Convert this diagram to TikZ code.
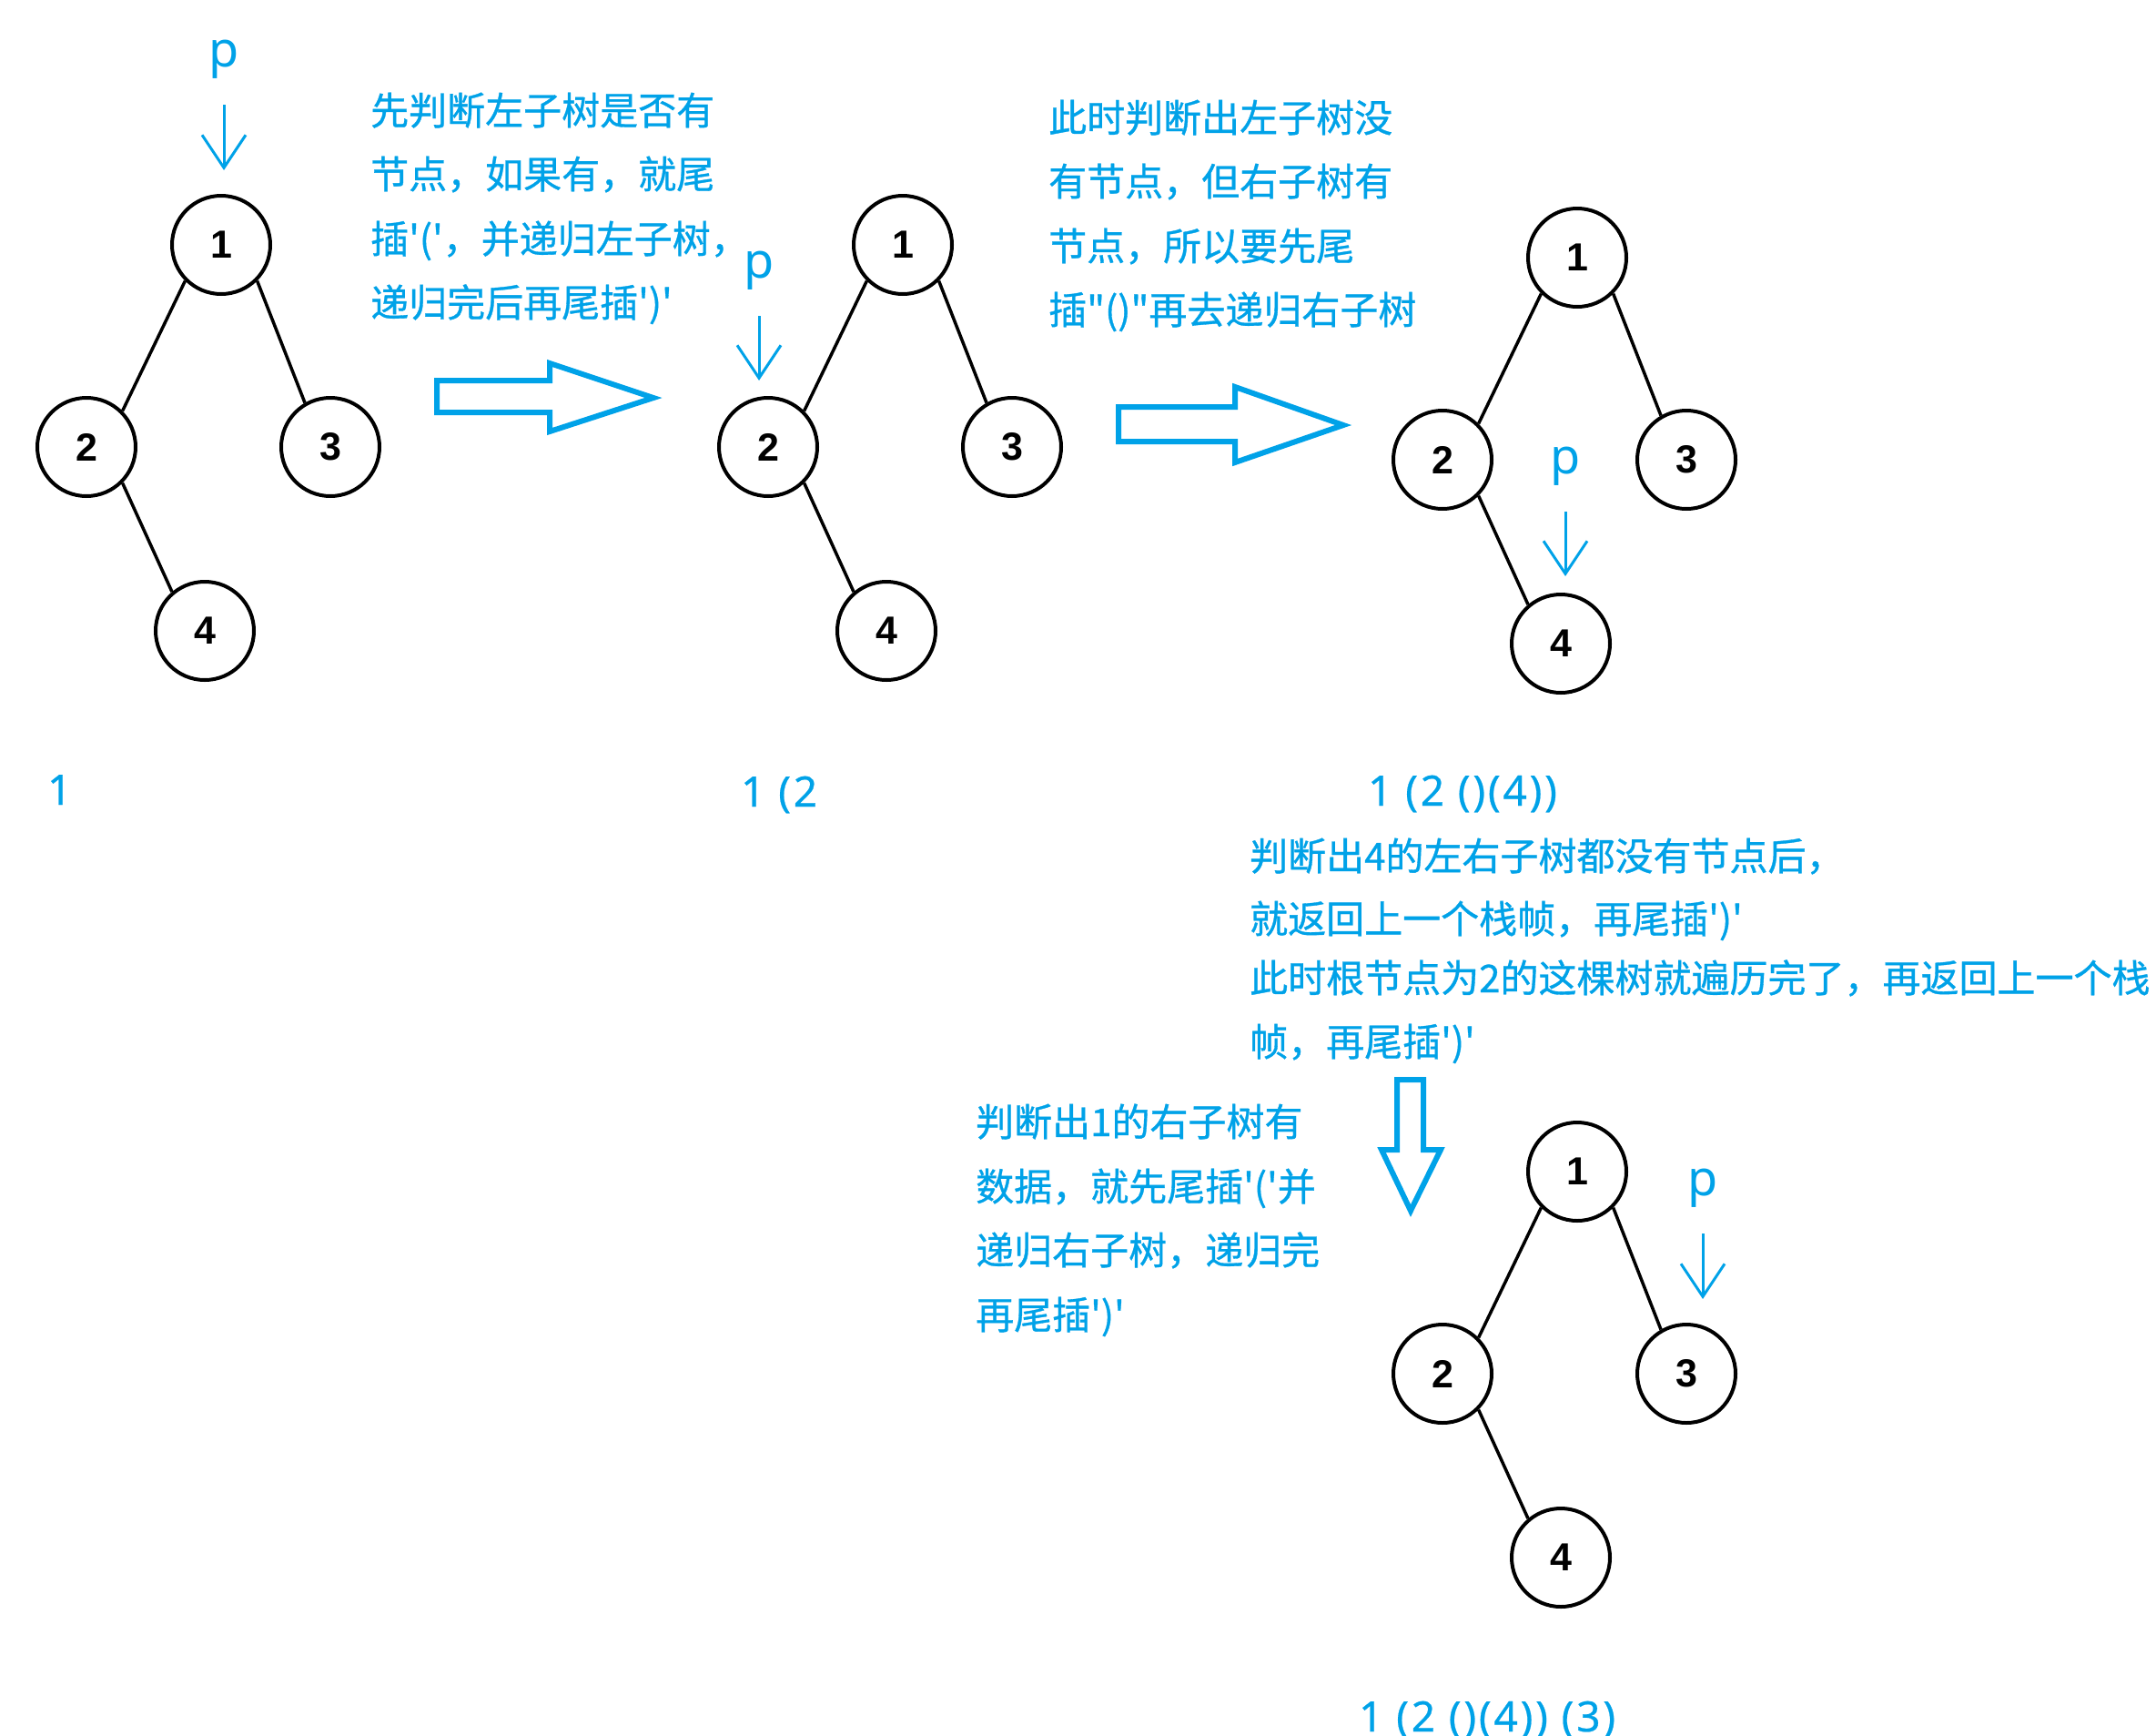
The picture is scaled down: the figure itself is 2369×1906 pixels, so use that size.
\documentclass[tikz,border=0pt]{standalone}
\usepackage{fontspec}
\usetikzlibrary{arrows.meta}
\setmainfont{Liberation Sans}
\newfontfamily\cjkfont[Ligatures=TeXOff,FakeBold=0.8]{Noto Sans CJK SC}
\newfontfamily\numfont[LetterSpace=6,FakeBold=0.5]{Noto Sans}
\newfontfamily\pfont{Noto Sans}
\definecolor{pblue}{RGB}{0,162,232}
\begin{document}
\begin{tikzpicture}[x=1pt,y=-1pt,
  tn/.style={circle, draw=black, line width=4pt, minimum size=108pt, inner sep=0pt,
    font=\fontsize{43}{43}\selectfont\bfseries},
  treeedge/.style={line width=3.5pt, draw=black},
  ctext/.style={anchor=base west, inner sep=0pt, text=pblue,
    font=\cjkfont\fontsize{42}{42}\selectfont},
  seqtext/.style={anchor=base west, inner sep=0pt, text=pblue,
    font=\numfont\fontsize{46}{46}\selectfont},
  plabel/.style={inner sep=0pt, text=pblue, font=\pfont\fontsize{54}{54}\selectfont},
  parrow/.style={draw=pblue, line width=3pt, shorten <=29pt,
    -{Straight Barb[length=36pt,width=48pt]}},
  blockarrow/.style={draw=pblue, line width=6pt, line join=miter}
]
\fill[white] (0,0) rectangle (2369,1906);
\useasboundingbox (0,0) rectangle (2369,1906);

% ---------- tree 1 ----------
\node[tn] (a1) at (243,269) {1};
\node[tn] (a2) at (95,491) {2};
\node[tn] (a3) at (363,491) {3};
\node[tn] (a4) at (225,693) {4};
\draw[treeedge] (a1.225) -- (a2.45);
\draw[treeedge] (a1.-45) -- (a3.120);
\draw[treeedge] (a2.-45) -- (a4.130);
\node[plabel] (p1) at (246,65) {p};
\coordinate (e1) at (246,187);
\draw[parrow] (p1.south) -- (e1);

% ---------- tree 2 ----------
\node[tn] (b1) at (992,269) {1};
\node[tn] (b2) at (844,491) {2};
\node[tn] (b3) at (1112,491) {3};
\node[tn] (b4) at (974,693) {4};
\draw[treeedge] (b1.225) -- (b2.45);
\draw[treeedge] (b1.-45) -- (b3.120);
\draw[treeedge] (b2.-45) -- (b4.130);
\node[plabel] (p2) at (834,297) {p};
\coordinate (e2) at (834,418);
\draw[parrow] (p2.south) -- (e2);

% ---------- tree 3 ----------
\node[tn] (c1) at (1733,283) {1};
\node[tn] (c2) at (1585,505) {2};
\node[tn] (c3) at (1853,505) {3};
\node[tn] (c4) at (1715,707) {4};
\draw[treeedge] (c1.225) -- (c2.45);
\draw[treeedge] (c1.-45) -- (c3.120);
\draw[treeedge] (c2.-45) -- (c4.130);
\node[plabel] (p3) at (1720,512) {p};
\coordinate (e3) at (1720,633);
\draw[parrow] (p3.south) -- (e3);

% ---------- tree 4 ----------
\node[tn] (d1) at (1733,1287) {1};
\node[tn] (d2) at (1585,1509) {2};
\node[tn] (d3) at (1853,1509) {3};
\node[tn] (d4) at (1715,1711) {4};
\draw[treeedge] (d1.225) -- (d2.45);
\draw[treeedge] (d1.-45) -- (d3.120);
\draw[treeedge] (d2.-45) -- (d4.130);
\node[plabel] (p4) at (1871,1305) {p};
\coordinate (e4) at (1871,1427);
\draw[parrow] (p4.south) -- (e4);

% ---------- block arrows ----------
\draw[blockarrow] (480,418) -- (604,418) -- (604,399) -- (718,437) -- (604,474) -- (604,453) -- (480,453) -- cycle;
\draw[blockarrow] (1229,447) -- (1357,447) -- (1357,425) -- (1476,467) -- (1357,508) -- (1357,485) -- (1229,485) -- cycle;
\draw[blockarrow] (1535,1186) -- (1564,1186) -- (1564,1263) -- (1583,1263) -- (1550,1330) -- (1518,1263) -- (1535,1263) -- cycle;

% ---------- text block 1 ----------
\node[ctext] (t1a) at (407,137) {先判断左子树是否有};
\node[ctext] (t1b) at (407,207) {节点，如果有，就尾};
\node[ctext] (t1c) at (407,278) {插'('，并递归左子树，};
\node[ctext] (t1d) at (407,348) {递归完后再尾插')'};

% ---------- text block 2 ----------
\node[ctext] (t2a) at (1152,145) {此时判断出左子树没};
\node[ctext] (t2b) at (1152,215) {有节点，但右子树有};
\node[ctext] (t2c) at (1152,286) {节点，所以要先尾};
\node[ctext] (t2d) at (1152,356) {插"()"再去递归右子树};

% ---------- text block 3 ----------
\node[ctext] (t3a) at (1373,956) {判断出4的左右子树都没有节点后，};
\node[ctext] (t3b) at (1373,1025) {就返回上一个栈帧，再尾插')'};
\node[ctext] (t3c) at (1373,1090) {此时根节点为2的这棵树就遍历完了，再返回上一个栈};
\node[ctext] (t3d) at (1373,1160) {帧，再尾插')'};

% ---------- text block 4 ----------
\node[ctext] (t4a) at (1072,1248) {判断出1的右子树有};
\node[ctext] (t4b) at (1072,1319) {数据，就先尾插'('并};
\node[ctext] (t4c) at (1072,1389) {递归右子树，递归完};
\node[ctext] (t4d) at (1072,1460) {再尾插')'};

% ---------- sequences ----------
\node[seqtext] (s1) at (52,884) {1};
\node[seqtext] (s2) at (814,886) {1 (2};
\node[seqtext] (s3) at (1503,885) {1 (2 ()(4))};
\node[seqtext] (s4) at (1493,1902) {1 (2 ()(4)) (3)};
\end{tikzpicture}
\end{document}
